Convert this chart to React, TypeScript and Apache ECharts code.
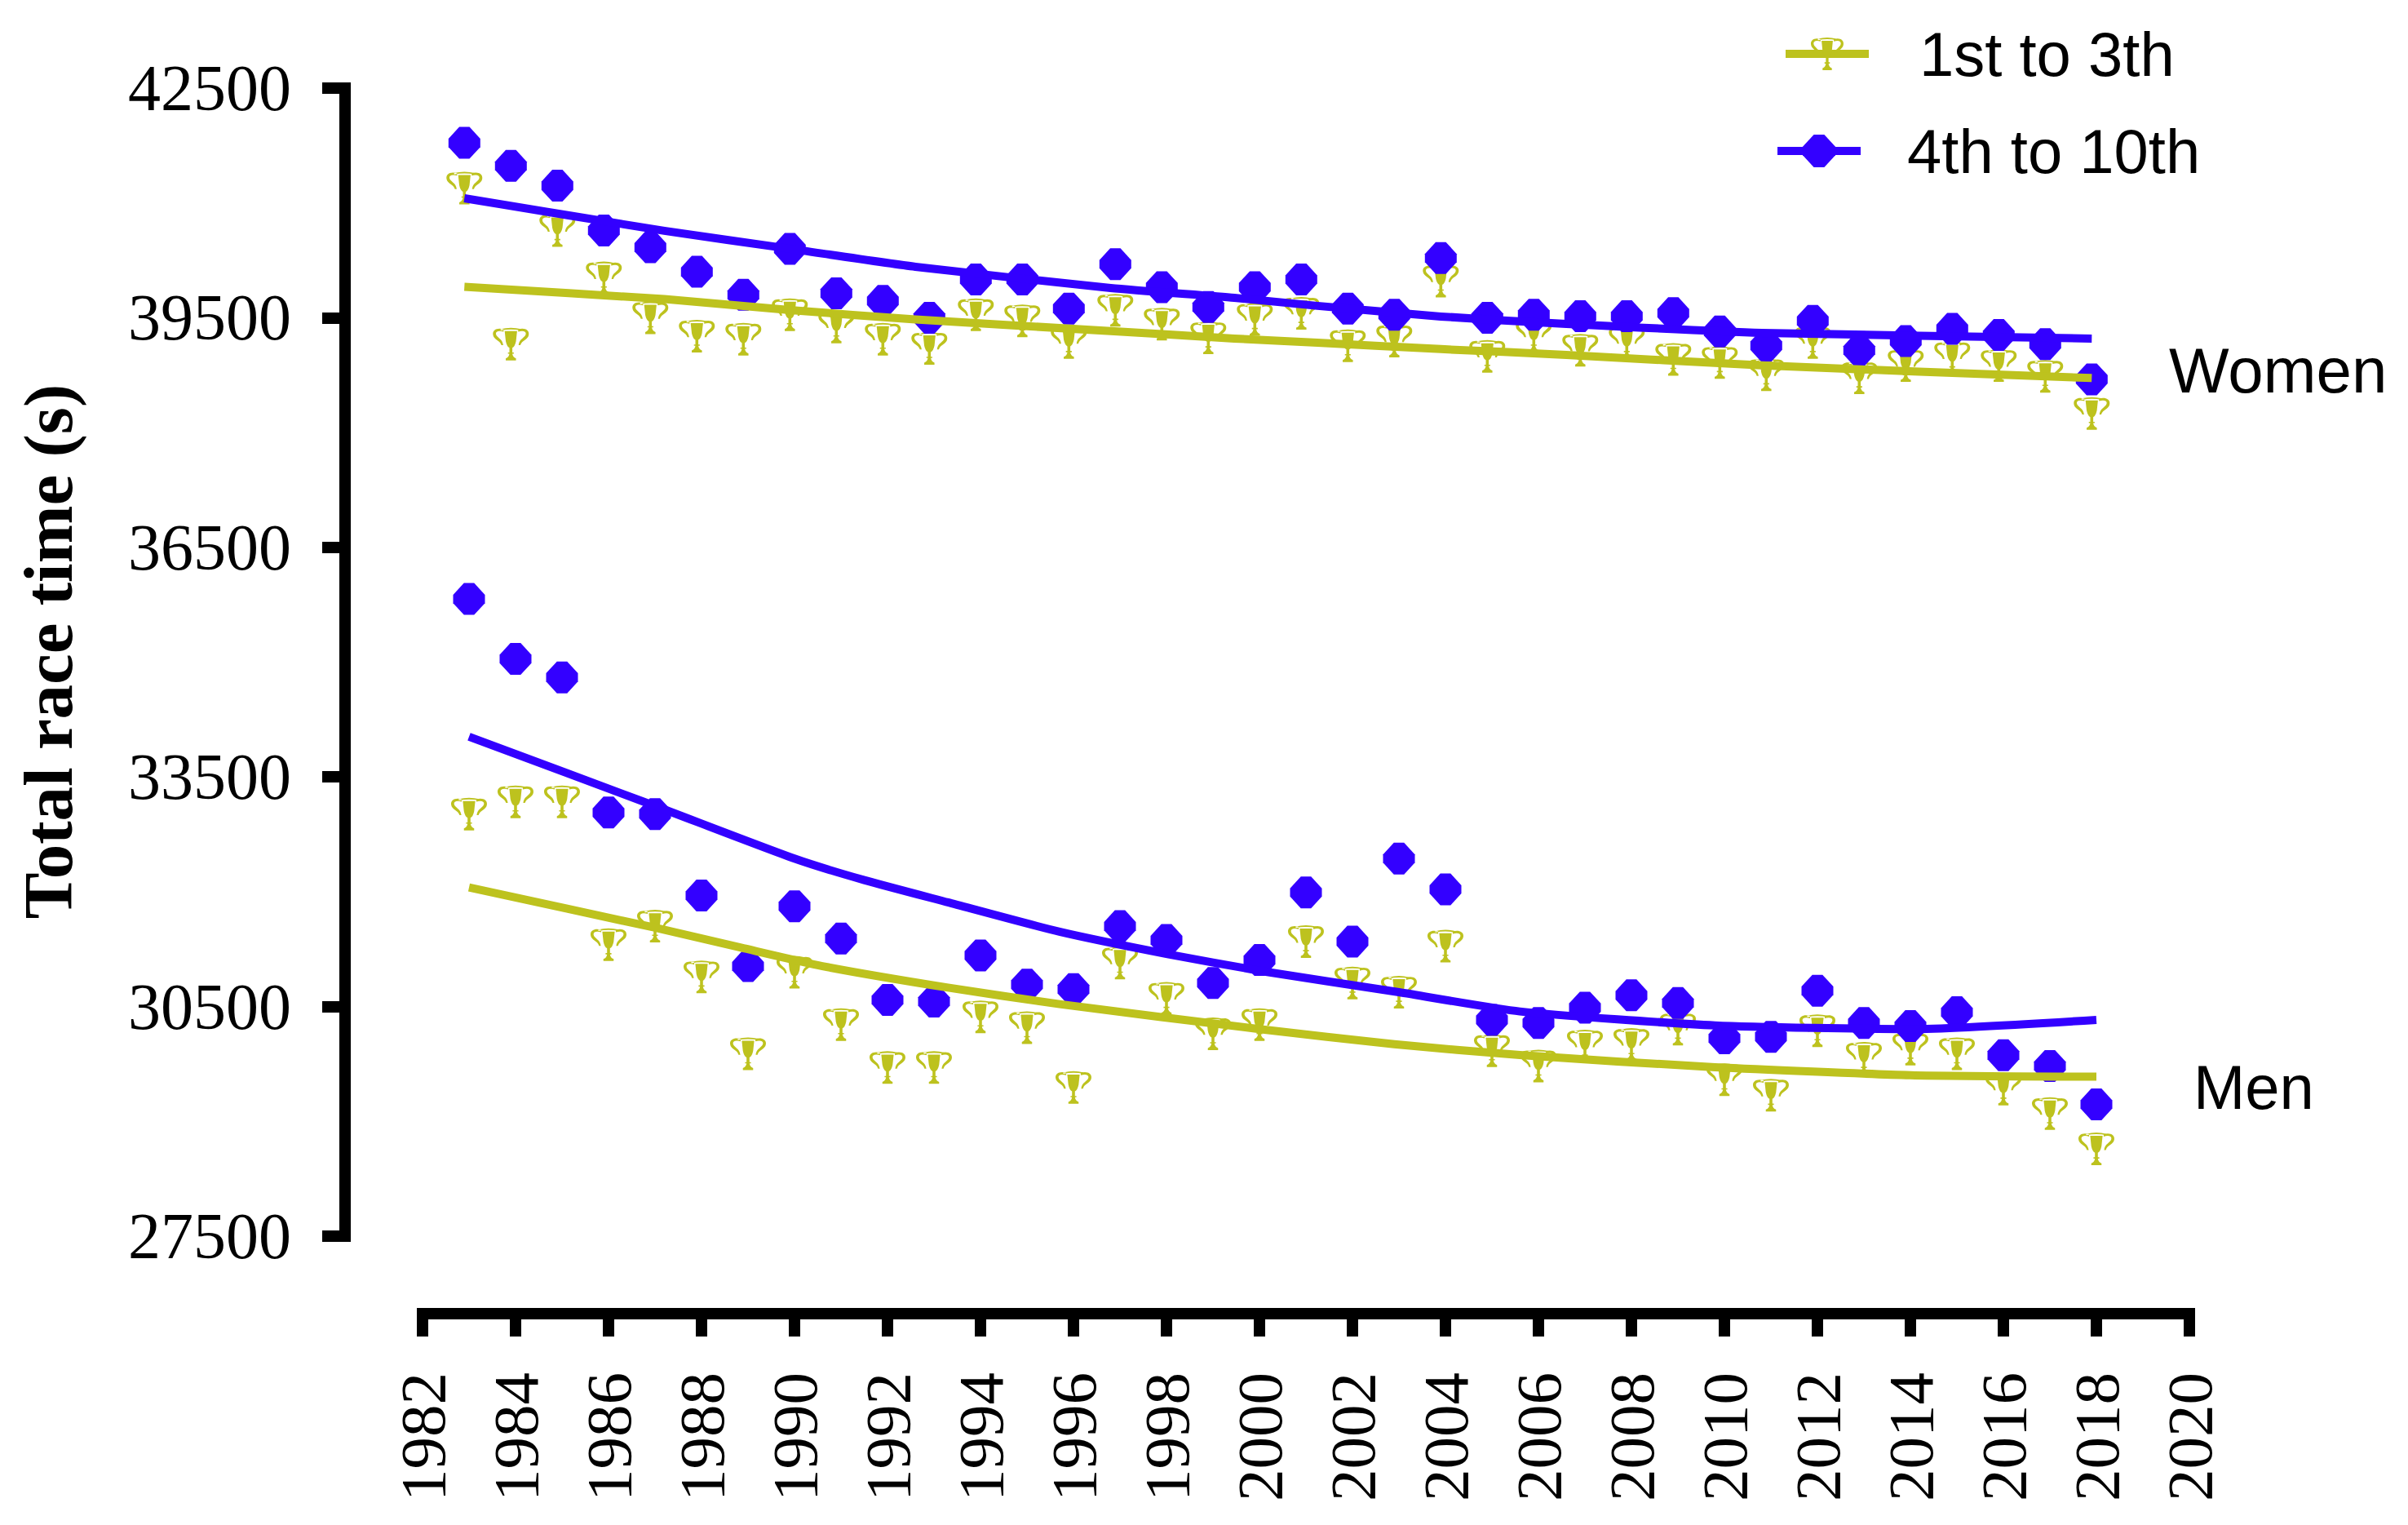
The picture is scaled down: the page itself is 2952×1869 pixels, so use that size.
import React, { useEffect, useRef } from "react";
import * as echarts from "echarts";

const years = [1983,1984,1985,1986,1987,1988,1989,1990,1991,1992,1993,1994,1995,1996,1997,1998,1999,2000,2001,2002,2003,2004,2005,2006,2007,2008,2009,2010,2011,2012,2013,2014,2015,2016,2017,2018];
const womenTop = [41195,39156,40640,40020,39500,39260,39220,39540,39380,39220,39100,39540,39460,39176,39598,39417,39237,39477,39558,39135,39196,39980,38996,39260,39076,39176,38956,38915,38755,39176,38715,38875,38976,38875,38735,38250];
const womenRest = [41785,41485,41225,40640,40420,40100,39800,40400,39820,39720,39500,40000,40000,39620,40200,39900,39640,39900,40000,39620,39540,40280,39500,39540,39520,39520,39560,39320,39135,39460,39075,39195,39355,39275,39155,38695];
const menTop = [33015,33175,33175,31309,31550,30887,29884,30948,30265,29703,29703,30366,30225,29442,31068,30607,30145,30265,31349,30807,30687,31289,29924,29724,29984,30004,30205,29543,29342,30185,29824,29944,29884,29422,29101,28640];
const menRest = [35825,35042,34801,33035,33015,31951,31028,31811,31389,30586,30566,31168,30787,30727,31550,31369,30807,31108,31991,31349,32433,32031,30326,30285,30486,30647,30546,30085,30105,30707,30285,30245,30426,29864,29724,29222];

const womenFitYears = [1983,1987.3,1990,1992.7,1996.9,1999.56,2001.35,2004,2006.7,2010.9,2018];
const womenTopFit = [39903,39743,39601,39477,39326,39228,39175,39090,39015,38877,38712];
const womenRestFit = [41061,40635,40401,40166,39889,39761,39655,39516,39420,39303,39228];
const menTopFitYears = [1983,1987,1988.85,1990.6,1993.3,1995.7,2000,2002.9,2005.6,2009.8,2014,2018];
const menTopFit = [32056,31530,31269,31028,30747,30532,30205,30008,29866,29707,29603,29583];
const menRestFitYears = [1983,1987,1990,1991.5,1993.3,1995.7,1998,2000,2003,2005.6,2009.8,2014,2018];
const menRestFit = [34026,33121,32433,32152,31861,31477,31187,30968,30687,30436,30253,30205,30326];

const yTicks = [27500,30500,33500,36500,39500,42500];
const LEGEND_TOP = "1st to 3th";
const LEGEND_REST = "4th to 10th";
const BLUE = "#3300FF";
const OLIVE = "#BDC21E";
const SERIF = "'Liberation Serif', serif";
const SANS = "'Liberation Sans', sans-serif";

const TROPHY = "path://M22 5Q50 -3 78 5L78 9Q50 3 22 9ZM33 11L67 11L64 42Q61 58 54 62L54 76L46 76L46 62Q39 58 36 42ZM42 76L58 76L58 80L42 80ZM36 100L64 100L64 94Q55 90 54 80L46 80Q45 90 36 94ZM30 6C14 0 -1 7 1 22C3 38 20 38 24 54L29 54C27 34 11 32 9 20C8 11 18 9 30 13ZM70 6C86 0 101 7 99 22C97 38 80 38 76 54L71 54C73 34 89 32 91 20C92 11 82 9 70 13Z";
const DIAMOND = "path://M34 0L66 0L100 37L100 63L66 100L34 100L0 63L0 37Z";

const pairs = (xs: number[], ys: number[]) => xs.map((x, i) => [x, ys[i]]);

const fit = (name: string, xIdx: number, xs: number[], ys: number[], color: string, symbol: string) => ({
  type: "line", name, xAxisIndex: xIdx, data: pairs(xs, ys), smooth: 0.2, showSymbol: false, symbol,
  itemStyle: { color }, lineStyle: { color, width: 10, join: "round" }, silent: true,
});
const points = (name: string, xIdx: number, ys: number[], color: string, symbol: string, size: number | number[]) => ({
  type: "scatter", name, xAxisIndex: xIdx, data: pairs(years, ys), symbol, symbolSize: size,
  itemStyle: { color, opacity: 1 }, silent: true, clip: false,
});
const legend = (name: string, left: number, top: number, gap: number) => ({
  data: [name], left, top, orient: "horizontal", itemWidth: 102, itemHeight: 50, padding: 0, selectedMode: false,
  lineStyle: { width: 10 },
  formatter: "{t|{name}}",
  textStyle: { rich: { t: { fontFamily: SANS, fontSize: 76, color: "#000", padding: [0, 0, 0, gap] } } },
});
const annotation = (text: string, left: number, top: number, size: number) => ({
  type: "text", left, top, style: { text, font: `${size}px ${SANS}`, fill: "#000" }, silent: true,
});

export default function App() {
  const ref = useRef<HTMLDivElement>(null);
  useEffect(() => {
    const chart = echarts.init(ref.current!, undefined, { renderer: "svg" });
    const xBase = {
      type: "value", min: 1982, max: 2020, interval: 2, offset: 95, position: "bottom",
      axisLine: { show: true, onZero: false, lineStyle: { color: "#000", width: 14, cap: "square" } },
      axisTick: { show: true, length: 28, lineStyle: { color: "#000", width: 14 } },
      axisLabel: { rotate: 90, margin: 72, fontFamily: SERIF, fontSize: 79, color: "#000", formatter: (v: number) => String(v), hideOverlap: false },
      splitLine: { show: false },
    };
    chart.setOption({
      animation: false,
      backgroundColor: "#fff",
      grid: { left: 518, right: 268, top: 108, bottom: 354, containLabel: false, outerBoundsMode: "none" },
      xAxis: [
        xBase,
        { type: "value", min: 1982.1, max: 2020.1, show: false, splitLine: { show: false } },
      ],
      yAxis: {
        type: "value", min: 27500, max: 42500, offset: 95, position: "left",
        name: "Total race time (s)", nameLocation: "middle", nameRotate: 90, nameGap: 322,
        nameTextStyle: { fontFamily: SERIF, fontWeight: "bold", fontSize: 85, color: "#000", padding: [0, 0, 0, 26] },
        axisLine: { show: true, onZero: false, lineStyle: { color: "#000", width: 14, cap: "square" } },
        axisTick: { show: true, length: 28, customValues: yTicks, lineStyle: { color: "#000", width: 14 } },
        axisLabel: { margin: 66, customValues: yTicks, fontFamily: SERIF, fontSize: 80, color: "#000", formatter: (v: number) => String(v) },
        splitLine: { show: false },
      },
      legend: [legend(LEGEND_TOP, 2184, 28, 57), legend(LEGEND_REST, 2174, 147, 52)],
      graphic: [annotation("Women", 2659, 415, 78), annotation("Men", 2689, 1294, 76)],
      series: [
        fit(LEGEND_REST, 1, womenFitYears, womenRestFit, BLUE, DIAMOND),
        fit("Men 4th to 10th fit", 0, menRestFitYears, menRestFit, BLUE, DIAMOND),
        points("Women 1st to 3th", 1, womenTop, OLIVE, TROPHY, [44, 40]),
        points("Men 1st to 3th", 0, menTop, OLIVE, TROPHY, [44, 40]),
        fit(LEGEND_TOP, 1, womenFitYears, womenTopFit, OLIVE, TROPHY),
        fit("Men 1st to 3th fit", 0, menTopFitYears, menTopFit, OLIVE, TROPHY),
        points("Women 4th to 10th", 1, womenRest, BLUE, DIAMOND, 39),
        points("Men 4th to 10th", 0, menRest, BLUE, DIAMOND, 39),
      ],
    });
    return () => chart.dispose();
  }, []);
  return <div ref={ref} style={{ position: "absolute", left: 0, top: 0, width: 2952, height: 1869 }} />;
}
